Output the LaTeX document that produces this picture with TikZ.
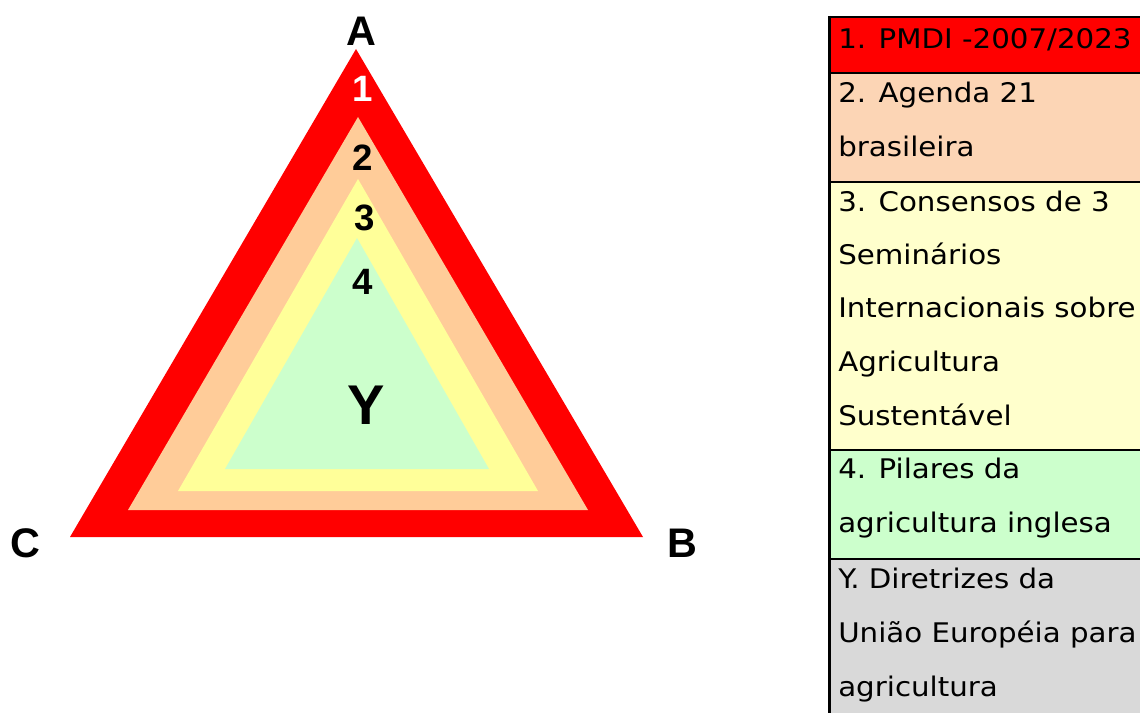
\documentclass[tikz,border=0pt]{standalone}
\usepackage{fontspec}
\setmainfont{Liberation Sans}
\newfontfamily\verd[FakeStretch=1.085]{DejaVu Sans}
\definecolor{cred}{HTML}{FF0000}
\definecolor{cpeach}{HTML}{FFCC99}
\definecolor{cyel}{HTML}{FFFF99}
\definecolor{cgrn}{HTML}{CCFFCC}
\definecolor{rpeach}{HTML}{FCD5B5}
\definecolor{ryel}{HTML}{FFFFCC}
\definecolor{rgray}{HTML}{D9D9D9}
\tikzset{
  vlabel/.style={inner sep=0pt, font=\fontsize{31}{31}\selectfont\bfseries},
  numlabel/.style={inner sep=0pt, font=\fontsize{27.5}{27.5}\selectfont\bfseries},
  celltext/.style={anchor=base west, inner sep=0pt, font=\verd\fontsize{20.25}{24}\selectfont},
  rowline/.style={line width=1.6pt, draw=black}
}
\begin{document}
\begin{tikzpicture}[x=0.75pt,y=-0.75pt]
\useasboundingbox (0,0) rectangle (1140,713);
\clip (0,0) rectangle (1140,713);
% triangles
\fill[cred] (356,49) -- (643,537) -- (70,537) -- cycle;
\fill[cpeach] (358,117) -- (588,510) -- (128,510) -- cycle;
\fill[cyel] (358,179) -- (538,491) -- (178,491) -- cycle;
\fill[cgrn] (357,238) -- (489,469) -- (225,469) -- cycle;
% labels
\node[vlabel] (A) at (361,31) {A};
\node[vlabel] (C) at (25,543) {C};
\node[vlabel] (B) at (682,543) {B};
\node[numlabel, text=white] (n1) at (363,89) {1};
\node[numlabel] (n2) at (363,158) {2};
\node[numlabel] (n3) at (365,218) {3};
\node[numlabel] (n4) at (363,282) {4};
\node[inner sep=0pt, font=\fontsize{42}{42}\selectfont\bfseries] (Y) at (366,405) {Y};
% table rows
\fill[cred] (829,17) rectangle (1160,73);
\fill[rpeach] (829,73) rectangle (1160,182);
\fill[ryel] (829,182) rectangle (1160,450);
\fill[cgrn] (829,450) rectangle (1160,559);
\fill[rgray] (829,559) rectangle (1160,720);
\draw[rowline] (829,17) -- (1160,17);
\draw[rowline] (829,73) -- (1160,73);
\draw[rowline] (829,182) -- (1160,182);
\draw[rowline] (829,450) -- (1160,450);
\draw[rowline] (829,559) -- (1160,559);
\draw[line width=2.25pt] (829,16) -- (829,720);
% table text
\node[celltext] (t1) at (838,49) {1. PMDI -2007/2023};
\node[celltext] (t2a) at (838,103) {2. Agenda 21};
\node[celltext] (t2b) at (838,157) {brasileira};
\node[celltext] (t3a) at (838,212) {3. Consensos de 3};
\node[celltext] (t3b) at (838,265) {Seminários};
\node[celltext] (t3c) at (838,318) {Internacionais sobre};
\node[celltext] (t3d) at (838,372) {Agricultura};
\node[celltext] (t3e) at (838,425) {Sustentável};
\node[celltext] (t4a) at (838,478) {4. Pilares da};
\node[celltext] (t4b) at (838,532) {agricultura inglesa};
\node[celltext] (t5a) at (838,588) {Y. Diretrizes da};
\node[celltext] (t5b) at (838,642) {União Européia para};
\node[celltext] (t5c) at (838,696) {agricultura};
\end{tikzpicture}
\end{document}
